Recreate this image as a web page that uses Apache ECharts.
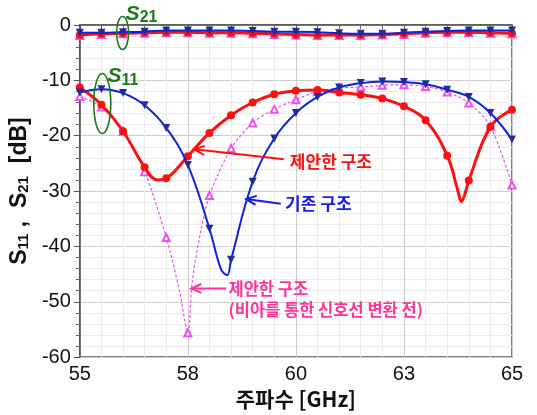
<!DOCTYPE html>
<html><head><meta charset="utf-8">
<script src="https://cdn.jsdelivr.net/npm/echarts@6/dist/echarts.min.js"></script>
<style>html,body{margin:0;padding:0;background:#fff}#c{width:537px;height:415px}</style>
</head><body><div id="c"></div>
<script>
// frequency points (GHz) where markers are drawn
const freqs = [55,55.5,56,56.5,57,57.5,58,58.5,59,59.5,60,60.5,61,61.5,62,62.5,63,63.5,64,64.5,65];
const xTicks = [55,57.5,60,62.5,65];
// S11 (dB)
const redS11  = [-11.3,-14.4,-19.2,-25.7,-27.7,-23.7,-19.5,-16.3,-14.0,-12.5,-11.9,-11.75,-12.2,-12.6,-13.3,-14.7,-17.2,-23.6,-28.1,-18.4,-15.3];
const redS11Extra  = [[56.8,-28.0],[63.75,-30.0],[63.83,-31.9],[63.92,-30.3]];
const blueS11 = [-12.2,-11.6,-12.3,-14.5,-18.6,-25.3,-36.8,-42.4,-28.3,-20.5,-15.9,-13.0,-11.3,-10.5,-10.2,-10.3,-10.7,-11.7,-13.0,-15.9,-20.7];
const blueS11Extra = [[58.27,-44.2],[58.41,-45.2]];
const magS11  = [-12.9,-14.8,-19.2,-26.5,-38.4,-55.6,-30.8,-22.3,-17.7,-15.2,-13.5,-12.0,-11.4,-11.2,-10.9,-10.8,-11.1,-12.1,-14.1,-18.3,-28.9];
const magS11Extra  = [[57.3,-47.8],[57.6,-46.5],[57.8,-37.2]];
// S21 (dB)
const redS21  = [-1.8,-1.6,-1.5,-1.4,-1.3,-1.3,-1.4,-1.4,-1.5,-1.6,-1.7,-1.8,-1.8,-1.8,-1.7,-1.6,-1.4,-1.3,-1.3,-1.4,-1.5];
const blueS21 = [-1.4,-1.4,-1.3,-1.2,-1.0,-1.0,-1.0,-1.0,-1.1,-1.2,-1.2,-1.3,-1.5,-1.6,-1.6,-1.4,-1.2,-1.1,-1.0,-1.0,-1.0];
const magS21  = [-1.9,-1.7,-1.6,-1.5,-1.4,-1.4,-1.5,-1.5,-1.6,-1.7,-1.8,-1.9,-1.9,-1.9,-1.8,-1.7,-1.5,-1.4,-1.4,-1.5,-1.6];

function build(vals, extra) {
  const items = freqs.map((f, i) => ({ value: [f, vals[i]] }));
  (extra || []).forEach(p => items.push({ value: p, symbol: 'none' }));
  items.sort((a, b) => a.value[0] - b.value[0]);
  return items;
}

const RED = '#ff1010', BLUE = '#0a24e6', BLUEM = '#1f2c9c', MAG = '#f050f0', PINK = '#ff3399', GREEN = '#1a7a1a';

function redSeries(vals, extra) {
  return { type: 'line', data: build(vals, extra), smooth: 0.4, symbol: 'circle', symbolSize: 8,
    lineStyle: { color: RED, width: 3 }, itemStyle: { color: RED }, z: 3 };
}
function blueSeries(vals, extra) {
  return { type: 'line', data: build(vals, extra), smooth: 0.4, symbol: 'triangle', symbolRotate: 180, symbolSize: 8,
    lineStyle: { color: BLUE, width: 2 }, itemStyle: { color: BLUEM }, z: 4 };
}
function magSeries(vals, extra) {
  return { type: 'line', data: build(vals, extra), smooth: 0.3, symbol: 'emptyTriangle', symbolSize: 7,
    lineStyle: { color: MAG, width: 1.2, type: [3, 2] }, itemStyle: { color: MAG, borderWidth: 1 }, z: 2 };
}

const chart = echarts.init(document.getElementById('c'), null, { renderer: 'canvas' });
chart.setOption({
  animation: false,
  backgroundColor: '#fff',
  grid: { left: 78, top: 25, width: 434, height: 334, show: true, borderColor: '#555', borderWidth: 1.5, backgroundColor: 'transparent' },
  xAxis: {
    type: 'value', min: 55, max: 65, interval: 2.5,
    name: '주파수 [GHz]', nameLocation: 'middle', nameGap: 29,
    nameTextStyle: { fontFamily: 'Noto Sans CJK KR', fontWeight: 'bold', fontSize: 21, color: '#111' },
    axisLine: { lineStyle: { color: '#555', width: 1.5 } },
    axisTick: { show: true, length: 5, lineStyle: { color: '#555' } },
    minorTick: { show: true, splitNumber: 5, length: 4, lineStyle: { color: '#666' } },
    splitLine: { show: true, lineStyle: { color: '#cdcdcd', width: 1 } },
    minorSplitLine: { show: true, lineStyle: { color: '#ebebeb', width: 1 } },
    axisLabel: { fontSize: 20, color: '#111', fontFamily: 'Liberation Sans', margin: 7,
      formatter: v => String(Math.round(v)) }
  },
  yAxis: {
    type: 'value', min: -60, max: 0, interval: 10,
    name: 'S{sub|11} ,  S{sub|21}  [dB]', nameLocation: 'middle', nameGap: 34, nameRotate: 90,
    nameTextStyle: { fontFamily: 'Liberation Sans', fontWeight: 'bold', fontSize: 23, color: '#111',
      rich: { sub: { fontFamily: 'Liberation Sans', fontWeight: 'bold', fontSize: 15, color: '#111', verticalAlign: 'bottom', lineHeight: 14 } } },
    axisLine: { show: true, lineStyle: { color: '#555', width: 1.5 } },
    axisTick: { show: true, length: 6, lineStyle: { color: '#555' } },
    minorTick: { show: true, splitNumber: 5, length: 4, lineStyle: { color: '#666' } },
    splitLine: { show: true, lineStyle: { color: '#cdcdcd', width: 1 } },
    minorSplitLine: { show: true, lineStyle: { color: '#ebebeb', width: 1 } },
    axisLabel: { fontSize: 20, color: '#111', fontFamily: 'Liberation Sans', margin: 9 }
  },
  series: [
    magSeries(magS11, magS11Extra),
    magSeries(magS21),
    redSeries(redS11, redS11Extra),
    redSeries(redS21),
    blueSeries(blueS11, blueS11Extra),
    blueSeries(blueS21)
  ]
});

// annotations anchored in data coordinates
const P = (f, d) => chart.convertToPixel({ gridIndex: 0 }, [f, d]);
function arrow(tail, tip, color) {
  const a = P(tail[0], tail[1]), b = P(tip[0], tip[1]);
  const ang = Math.atan2(a[1] - b[1], a[0] - b[0]);
  const L = 11, s = 0.42;
  const b1 = [b[0] + L * Math.cos(ang + s), b[1] + L * Math.sin(ang + s)];
  const b2 = [b[0] + L * Math.cos(ang - s), b[1] + L * Math.sin(ang - s)];
  return [
    { type: 'line', z: 100, shape: { x1: a[0], y1: a[1], x2: b[0], y2: b[1] }, style: { stroke: color, lineWidth: 2 } },
    { type: 'polyline', z: 100, shape: { points: [b1, b, b2] }, style: { stroke: color, lineWidth: 2, fill: null } }
  ];
}
function label(f, d, text, color, size) {
  const p = P(f, d);
  return { type: 'text', z: 100, x: p[0], y: p[1], style: { text: text, fill: color,
    font: 'bold ' + size + 'px "Noto Sans CJK KR"', textAlign: 'left', textVerticalAlign: 'middle' } };
}
function ellipse(f, d, rx, ry) {
  const p = P(f, d);
  return { type: 'ellipse', z: 100, shape: { cx: p[0], cy: p[1], rx: rx, ry: ry }, style: { fill: null, stroke: GREEN, lineWidth: 1.6 } };
}
function sLabel(f, d, sub) {
  const p = P(f, d);
  return { type: 'text', z: 100, x: p[0], y: p[1], style: {
    text: '{s|S}{n|' + sub + '}', textAlign: 'left', textVerticalAlign: 'middle',
    rich: { s: { fill: GREEN, fontFamily: 'Liberation Sans', fontWeight: 'bold', fontStyle: 'italic', fontSize: 21, lineHeight: 24 },
            n: { fill: GREEN, fontFamily: 'Liberation Sans', fontWeight: 'bold', fontSize: 16, verticalAlign: 'bottom', lineHeight: 15 } } } };
}

const g = [];
g.push(ellipse(55.99, -1.44, 6, 16.5));
g.push(sLabel(56.06, 2.0, '21'));
g.push(ellipse(55.52, -14.19, 8.5, 30));
g.push(sLabel(55.64, -9.3, '11'));
g.push(...arrow([59.72, -24.25], [57.65, -22.45], RED));
g.push(label(59.86, -24.7, '제안한 구조', RED, 17));
g.push(...arrow([59.65, -32.3], [58.85, -31.43], '#1a1aee'));
g.push(label(59.75, -32.3, '기존 구조', '#1a1aee', 17));
g.push(...arrow([58.39, -47.6], [57.58, -47.6], PINK));
g.push(label(58.44, -47.6, '제안한 구조', PINK, 16.5));
g.push(label(58.44, -51.4, '(비아를 통한 신호선 변환 전)', PINK, 16.5));
chart.setOption({ graphic: g });
</script></body></html>
